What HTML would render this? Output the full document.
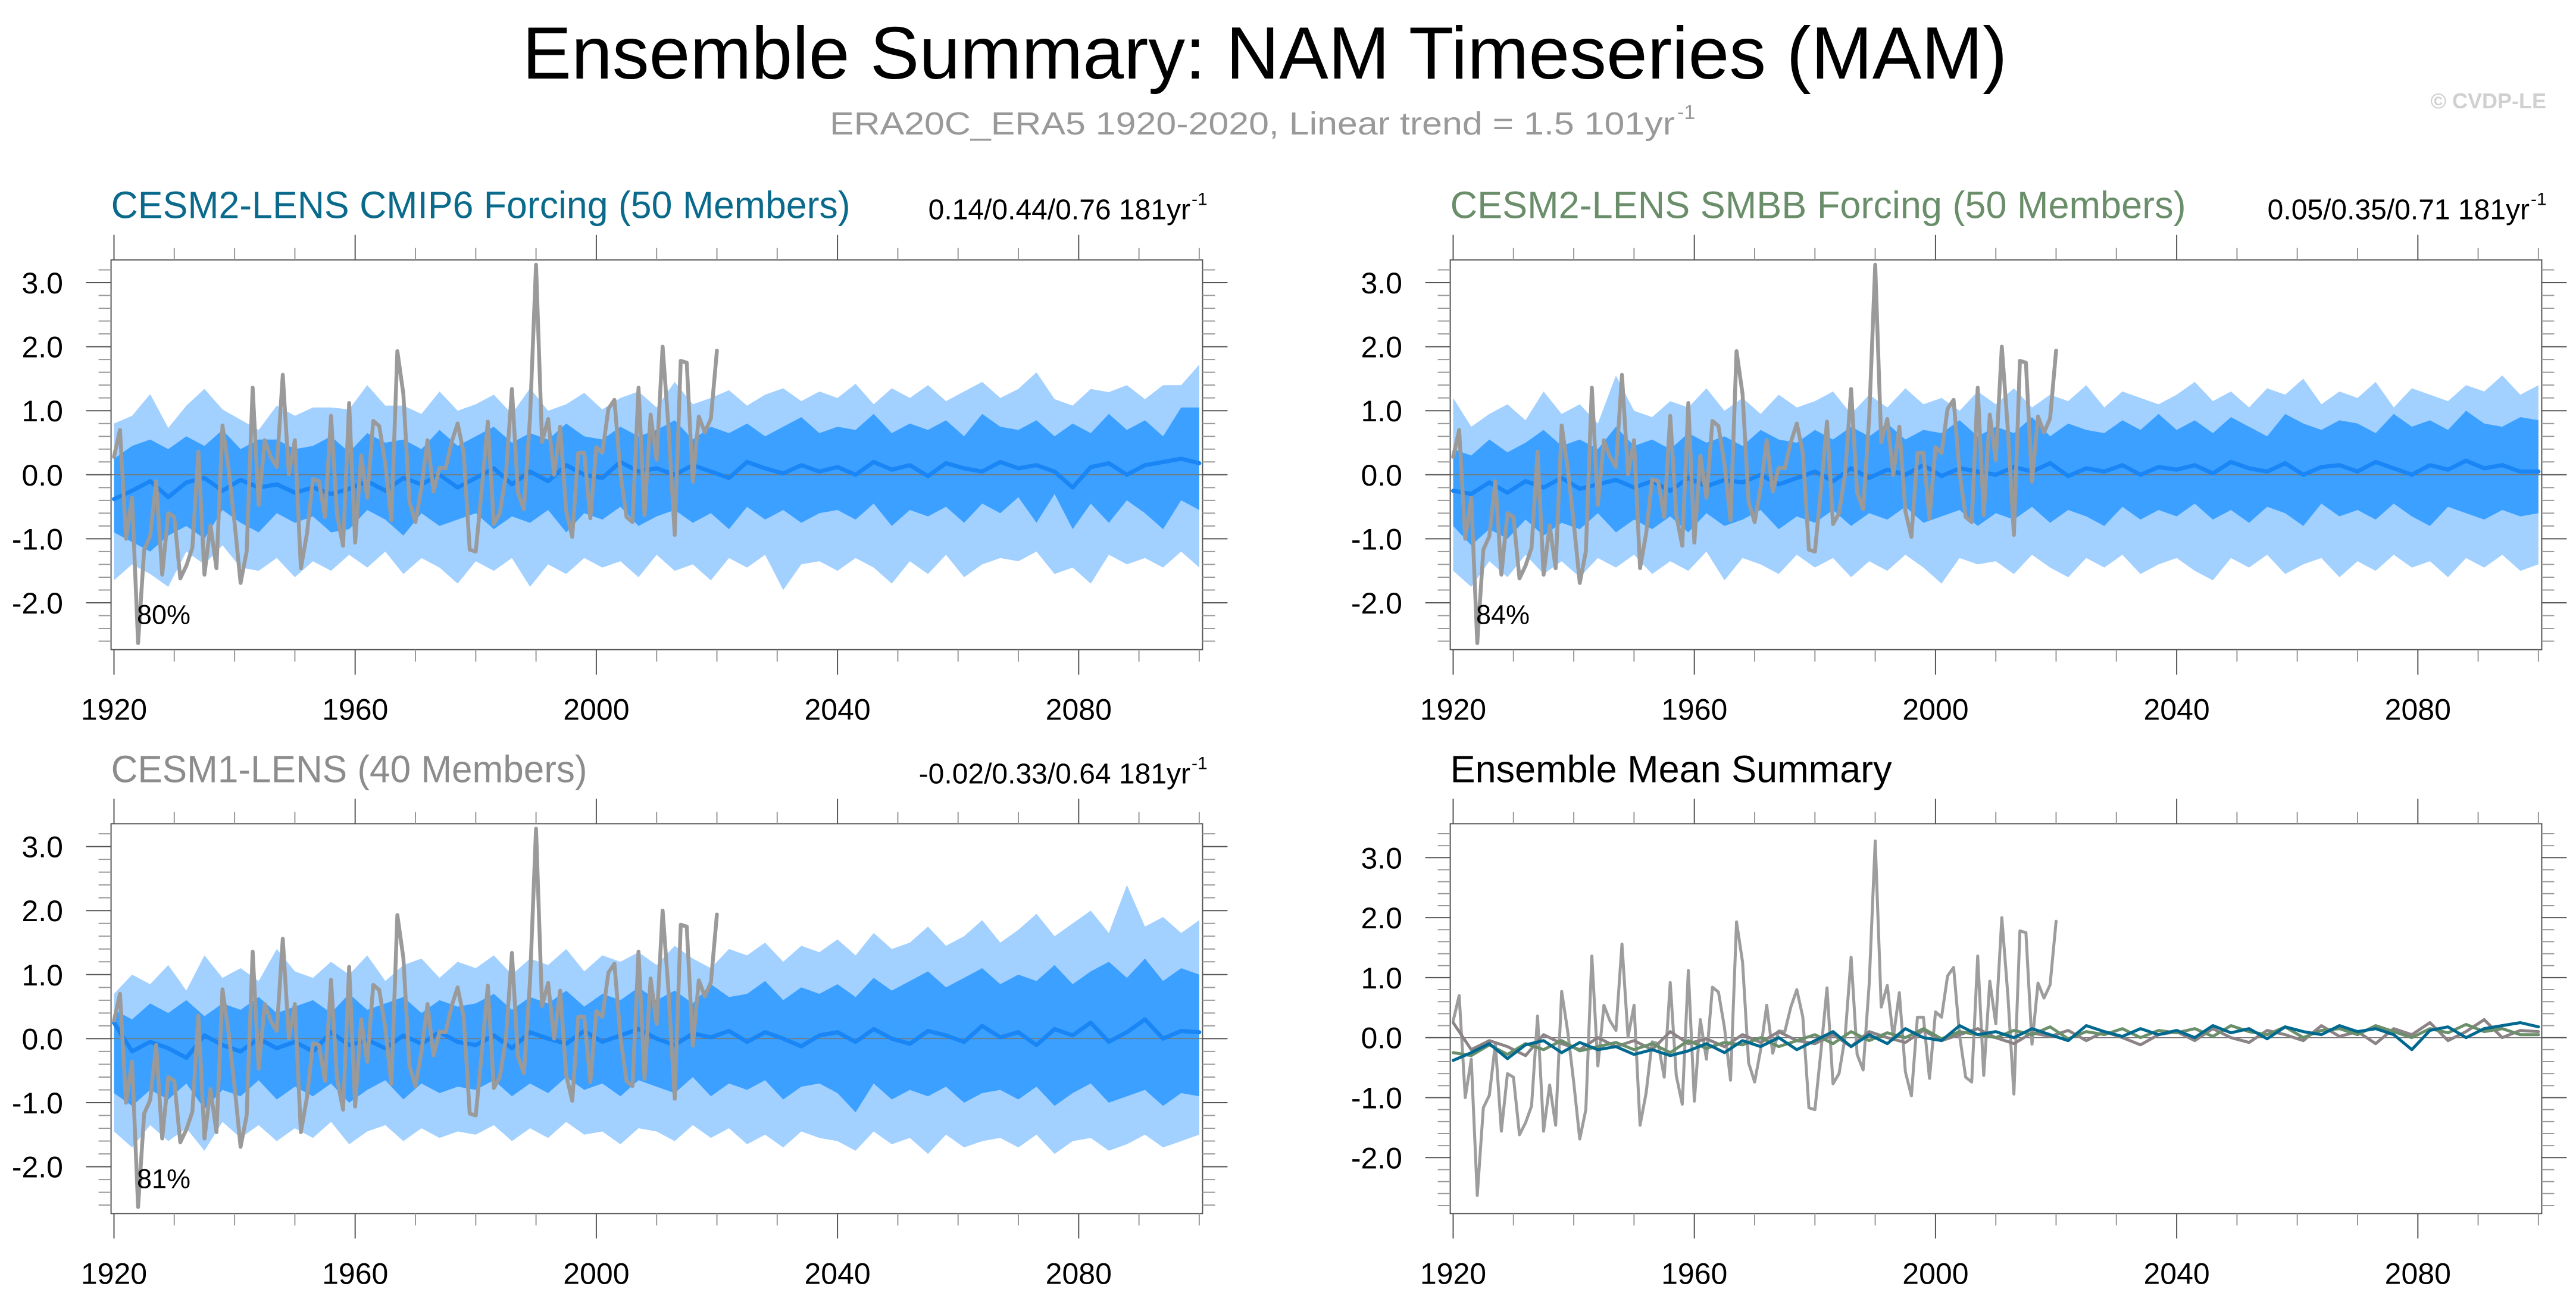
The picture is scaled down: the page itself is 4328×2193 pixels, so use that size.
<!DOCTYPE html>
<html><head><meta charset="utf-8"><title>Ensemble Summary: NAM Timeseries (MAM)</title>
<style>
html,body{margin:0;padding:0;background:#fff;}
svg{display:block;font-family:"Liberation Sans",Arial,sans-serif;}
</style></head>
<body>
<svg id="chart" width="4328" height="2193" viewBox="0 0 4328 2193" xmlns="http://www.w3.org/2000/svg">
<rect x="0" y="0" width="4328" height="2193" fill="#fff"/>
<text x="2125" y="132" font-size="124" text-anchor="middle" textLength="2495" lengthAdjust="spacingAndGlyphs" fill="#000">Ensemble Summary: NAM Timeseries (MAM)</text>
<text x="1394" y="226" font-size="54" fill="#999" textLength="1420" lengthAdjust="spacingAndGlyphs">ERA20C_ERA5 1920-2020, Linear trend = 1.5 101yr</text>
<text x="2818" y="200" font-size="34" fill="#999">-1</text>
<text x="4278" y="182" font-size="36" font-weight="bold" fill="#d0d0d0" text-anchor="end">© CVDP-LE</text>
<g id="plots"></g>
</svg>
<script>
// Years for ensemble statistics (3-year sampling)
const statYears = [];
for (let y = 1920; y <= 2100; y += 3) statYears.push(y);
// Observations 1920-2020
const obsStart = 1920;
const obsVals = [0.28,0.70,-1.00,-0.36,-2.63,-1.17,-0.96,-0.10,-1.56,-0.60,
-0.66,-1.62,-1.42,-1.14,0.36,-1.56,-0.79,-1.46,0.77,0.10,
-0.75,-1.69,-1.20,1.36,-0.47,0.54,0.28,0.12,1.56,0.01,
0.54,-1.46,-0.92,-0.07,-0.10,-0.66,0.92,-0.63,-1.11,1.12,
-1.06,0.30,-0.36,0.84,0.76,0.17,-0.71,1.93,1.26,-0.42,
-0.74,-0.20,0.54,-0.26,0.11,0.10,0.51,0.80,0.34,-1.17,
-1.20,-0.23,0.83,-0.77,-0.60,0.00,1.34,-0.28,-0.54,0.90,
3.28,0.51,0.87,0.00,0.75,-0.57,-0.97,0.34,0.34,-0.68,
0.43,0.34,1.03,1.17,0.03,-0.66,-0.74,1.36,-0.63,0.94,
0.23,2.00,0.70,-0.94,1.78,1.75,-0.11,0.91,0.66,0.88,
1.94];
// CESM2 CMIP6
const cmip6OutHi = [0.80,0.92,1.26,0.73,1.08,1.34,1.02,0.86,0.70,1.08,0.92,1.05,1.05,1.02,1.40,1.08,1.08,0.95,1.30,1.00,1.10,1.25,0.95,1.35,1.00,1.10,1.28,1.02,1.20,1.30,1.05,1.45,1.10,1.20,1.32,1.08,1.25,1.35,1.15,1.30,1.20,1.42,1.10,1.35,1.20,1.40,1.15,1.30,1.45,1.20,1.34,1.60,1.18,1.08,1.34,1.29,1.40,1.18,1.40,1.40,1.72];
const cmip6InHi = [0.25,0.45,0.55,0.40,0.60,0.45,0.70,0.40,0.55,0.55,0.40,0.45,0.60,0.35,0.65,0.50,0.55,0.40,0.70,0.45,0.60,0.75,0.50,0.65,0.55,0.80,0.60,0.55,0.75,0.60,0.70,0.85,0.55,0.75,0.65,0.80,0.60,0.75,0.90,0.65,0.75,0.70,0.95,0.65,0.80,0.70,0.85,0.60,0.95,0.75,0.70,0.85,0.60,0.80,0.65,0.95,0.70,0.85,0.60,1.05,1.05];
const cmip6InLo = [-0.90,-1.05,-1.20,-0.95,-0.80,-1.00,-0.55,-0.75,-0.90,-0.60,-0.75,-0.65,-0.90,-0.85,-0.55,-0.70,-0.95,-0.60,-0.80,-0.70,-0.60,-0.85,-0.65,-0.75,-0.55,-0.90,-0.60,-0.70,-0.50,-0.80,-0.65,-0.55,-0.75,-0.60,-0.85,-0.50,-0.70,-0.55,-0.75,-0.60,-0.55,-0.70,-0.45,-0.80,-0.55,-0.65,-0.50,-0.75,-0.45,-0.60,-0.35,-0.75,-0.30,-0.85,-0.45,-0.75,-0.40,-0.60,-0.85,-0.40,-0.55];
const cmip6OutLo = [-1.65,-1.40,-1.55,-1.75,-1.20,-1.40,-1.10,-1.45,-1.50,-1.30,-1.60,-1.35,-1.50,-1.25,-1.45,-1.20,-1.55,-1.30,-1.45,-1.70,-1.35,-1.50,-1.30,-1.75,-1.40,-1.55,-1.30,-1.45,-1.35,-1.60,-1.25,-1.50,-1.40,-1.65,-1.30,-1.45,-1.25,-1.80,-1.40,-1.35,-1.50,-1.30,-1.45,-1.70,-1.35,-1.55,-1.25,-1.60,-1.40,-1.30,-1.35,-1.20,-1.55,-1.45,-1.70,-1.25,-1.40,-1.30,-1.45,-1.20,-1.45];
const cmip6Mean = [-0.38,-0.25,-0.10,-0.35,-0.12,-0.05,-0.25,-0.08,-0.20,-0.15,-0.28,-0.20,-0.30,-0.22,-0.10,-0.25,-0.05,-0.15,0.00,-0.20,-0.05,0.10,-0.15,0.05,-0.10,0.15,0.00,-0.05,0.20,0.05,0.10,0.00,0.15,0.05,-0.05,0.20,0.10,0.02,0.15,0.05,0.12,0.00,0.20,0.08,0.15,-0.02,0.18,0.10,0.05,0.20,0.10,0.15,0.05,-0.20,0.12,0.18,0.00,0.15,0.20,0.25,0.18];
// CESM2 SMBB
const smbbOutHi = [1.20,0.75,0.95,1.10,0.85,1.30,0.95,1.10,0.80,1.55,1.00,0.90,1.15,1.05,1.35,1.00,1.20,0.95,1.25,1.05,1.15,1.30,0.95,1.25,1.05,1.35,1.10,1.20,1.00,1.30,1.10,1.35,1.05,1.25,1.15,1.40,1.05,1.30,1.20,1.10,1.25,1.45,1.15,1.30,1.05,1.35,1.25,1.50,1.10,1.30,1.20,1.45,1.05,1.35,1.25,1.15,1.40,1.30,1.55,1.25,1.40];
const smbbInHi = [0.40,0.30,0.55,0.35,0.50,0.70,0.45,0.55,0.40,0.75,0.45,0.55,0.40,0.65,0.50,0.60,0.45,0.70,0.55,0.50,0.70,0.55,0.75,0.60,0.80,0.55,0.70,0.65,0.85,0.60,0.75,0.65,0.90,0.60,0.80,0.70,0.65,0.85,0.70,0.95,0.70,0.85,0.65,0.90,0.75,0.60,0.95,0.80,0.70,0.85,0.80,0.65,0.95,0.75,0.85,0.70,1.00,0.80,0.75,0.90,0.85];
const smbbInLo = [-0.80,-1.10,-0.85,-1.00,-0.70,-0.95,-0.75,-0.85,-0.60,-0.90,-0.70,-0.85,-0.65,-0.90,-0.60,-0.80,-0.70,-0.55,-0.85,-0.65,-0.75,-0.55,-0.80,-0.60,-0.70,-0.50,-0.75,-0.65,-0.55,-0.80,-0.60,-0.70,-0.50,-0.75,-0.55,-0.65,-0.80,-0.50,-0.70,-0.55,-0.65,-0.45,-0.70,-0.55,-0.75,-0.50,-0.60,-0.80,-0.45,-0.65,-0.55,-0.70,-0.45,-0.65,-0.80,-0.50,-0.60,-0.70,-0.55,-0.65,-0.60];
const smbbOutLo = [-1.50,-1.75,-1.35,-1.60,-1.25,-1.55,-1.35,-1.60,-1.30,-1.45,-1.25,-1.55,-1.35,-1.50,-1.20,-1.65,-1.30,-1.40,-1.55,-1.25,-1.45,-1.30,-1.60,-1.35,-1.50,-1.25,-1.45,-1.70,-1.30,-1.40,-1.35,-1.55,-1.25,-1.45,-1.60,-1.30,-1.45,-1.25,-1.55,-1.40,-1.30,-1.50,-1.65,-1.30,-1.45,-1.25,-1.55,-1.40,-1.30,-1.60,-1.35,-1.50,-1.25,-1.45,-1.35,-1.60,-1.30,-1.45,-1.25,-1.50,-1.40];
const smbbMean = [-0.25,-0.30,-0.12,-0.28,-0.10,-0.20,-0.05,-0.22,-0.15,-0.08,-0.20,-0.10,-0.25,-0.05,-0.18,-0.08,-0.12,0.00,-0.15,-0.05,0.05,-0.10,0.10,-0.05,0.08,0.00,0.15,-0.02,0.10,0.05,0.00,0.12,0.05,0.18,-0.02,0.10,0.05,0.15,0.00,0.12,0.08,0.15,0.02,0.20,0.10,0.05,0.18,0.00,0.12,0.15,0.05,0.20,0.10,0.00,0.15,0.08,0.22,0.10,0.15,0.05,0.05];
// CESM1
const cesm1OutHi = [0.70,1.00,0.85,1.15,0.75,1.30,0.95,1.10,0.90,1.40,1.05,0.95,1.20,1.00,1.30,0.90,1.15,1.25,0.95,1.20,1.10,1.30,1.00,1.25,1.15,1.40,1.05,1.30,1.20,1.35,1.15,1.45,1.25,1.10,1.40,1.30,1.50,1.20,1.45,1.35,1.55,1.30,1.65,1.40,1.50,1.75,1.45,1.60,1.85,1.50,1.70,1.95,1.60,1.80,2.00,1.65,2.40,1.75,1.90,1.65,1.85];
const cesm1InHi = [0.45,0.30,0.55,0.40,0.60,0.35,0.55,0.45,0.65,0.40,0.50,0.60,0.40,0.70,0.45,0.55,0.65,0.40,0.60,0.50,0.55,0.70,0.45,0.65,0.55,0.75,0.50,0.70,0.60,0.80,0.60,0.75,0.55,0.85,0.65,0.70,0.90,0.60,0.80,0.70,0.85,0.65,0.95,0.75,0.90,1.05,0.80,0.95,1.10,0.85,1.00,0.90,1.15,0.85,1.05,1.20,0.95,1.25,0.90,1.10,1.00];
const cesm1InLo = [-0.85,-1.05,-0.80,-0.95,-0.70,-1.10,-0.80,-0.90,-0.65,-0.95,-0.75,-0.90,-0.70,-1.00,-0.80,-0.65,-0.95,-0.70,-0.85,-0.75,-0.80,-0.65,-0.90,-0.70,-0.85,-0.60,-0.80,-0.70,-0.90,-0.65,-0.75,-0.85,-0.60,-0.90,-0.70,-0.80,-0.65,-0.95,-0.75,-0.70,-0.85,-1.15,-0.70,-0.95,-0.80,-0.90,-0.75,-1.00,-0.85,-0.80,-0.95,-0.75,-1.05,-0.85,-0.70,-1.00,-0.90,-0.80,-1.05,-0.85,-0.90];
const cesm1OutLo = [-1.45,-1.70,-1.35,-1.60,-1.40,-1.75,-1.30,-1.55,-1.35,-1.60,-1.40,-1.55,-1.30,-1.65,-1.45,-1.35,-1.60,-1.40,-1.55,-1.45,-1.50,-1.35,-1.60,-1.40,-1.55,-1.30,-1.50,-1.45,-1.65,-1.40,-1.45,-1.60,-1.35,-1.55,-1.40,-1.65,-1.50,-1.70,-1.45,-1.55,-1.60,-1.75,-1.45,-1.65,-1.55,-1.80,-1.50,-1.70,-1.60,-1.55,-1.70,-1.50,-1.80,-1.60,-1.55,-1.75,-1.65,-1.50,-1.70,-1.60,-1.50];
const cesm1Mean = [0.25,-0.20,-0.05,-0.15,-0.30,0.05,-0.10,-0.20,0.00,-0.15,-0.05,-0.20,0.10,-0.10,-0.02,-0.15,0.05,-0.08,0.10,-0.05,-0.10,0.05,-0.15,0.10,0.00,-0.08,0.12,-0.05,0.05,0.15,0.00,-0.10,0.08,0.02,0.12,-0.05,0.10,0.00,-0.12,0.05,0.10,-0.05,0.15,0.00,-0.08,0.12,0.05,-0.05,0.20,0.02,0.10,-0.10,0.15,0.05,0.25,-0.05,0.10,0.30,0.00,0.12,0.10];
// Axis tick definitions
const xMajorTicks = [1920,1960,2000,2040,2080];
const yMajorTicks = [-2,-1,0,1,2,3];
const yTickLabels = ["-2.0","-1.0","0.0","1.0","2.0","3.0"];
const pctLabels = ["80%","84%","81%"];

const NS = "http://www.w3.org/2000/svg";
const root = document.getElementById("plots");
function mk(tag, attrs, parent){
  const e = document.createElementNS(NS, tag);
  for (const k in attrs) e.setAttribute(k, attrs[k]);
  (parent || root).appendChild(e);
  return e;
}

function makePanel(p){
  const g = mk("g", {});
  
  
  const L = p.ox + 186.6, R = p.ox + 2020.4, T = p.top, B = p.top + 655;
  const xs = yr => p.ox + 191.5 + (yr - 1920) * 10.13;
  const ys = v => p.zeroY - v * p.unit;
  const vMin = (p.zeroY - B) / p.unit, vMax = (p.zeroY - T) / p.unit;

  const t = mk("text", {x: L, y: T - 70, "font-size": 64, fill: p.titleColor, textLength: p.titleLen, lengthAdjust: "spacingAndGlyphs"}, g);
  t.textContent = p.title;
  
  
  if (p.stats) {
    const s = mk("text", {x: p.ox + 2000, y: T - 68, "font-size": 48, fill: "#000", "text-anchor": "end"}, g);
    s.textContent = p.stats;
    
    
    const sup = mk("text", {x: p.ox + 2002, y: T - 92, "font-size": 30, fill: "#000"}, g);
    sup.textContent = "-1";
    
    
  }

  const clipId = "clip" + p.idx;
  const cp = mk("clipPath", {id: clipId}, g);
  mk("rect", {x: L, y: T, width: R - L, height: B - T}, cp);
  const dg = mk("g", {"clip-path": "url(#" + clipId + ")"}, g);
  
  

  function band(hi, lo, color, name){
    let d = "";
    statYears.forEach((yr, i) => { d += (i ? "L" : "M") + xs(yr).toFixed(1) + "," + ys(hi[i]).toFixed(1); });
    for (let i = statYears.length - 1; i >= 0; i--) d += "L" + xs(statYears[i]).toFixed(1) + "," + ys(lo[i]).toFixed(1);
    const e = mk("path", {d: d + "Z", fill: color}, dg);
    
    
  }
  function line(years, vals, color, w, name){
    const d = vals.map((v, i) => (i ? "L" : "M") + xs(years[i]).toFixed(1) + "," + ys(v).toFixed(1)).join("");
    const e = mk("path", {d: d, fill: "none", stroke: color, "stroke-width": w, "stroke-linejoin": "round", "stroke-linecap": "round"}, dg);
    
    
  }
  const obsYears = obsVals.map((v, i) => obsStart + i);

  if (p.bands) {
    band(p.bands.oh, p.bands.ol, "#a2d0ff", "outer-range-band");
    band(p.bands.ih, p.bands.il, "#3ba0ff", "inner-range-band");
  }
  const zl = mk("line", {x1: L, x2: R, y1: ys(0), y2: ys(0), stroke: "#777", "stroke-width": 1.5}, dg);
  
  
  if (p.bands) {
    line(statYears, p.bands.m, "#1a86f5", 7, "ensemble-mean-line");
    line(obsYears, obsVals, "#9a9a9a", 6.5, "observed-line");
  } else {
    line(obsYears, obsVals, "#9d9d9d", 5, "observed-line");
    line(statYears, cesm1Mean, "#8b8386", 5, "cesm1-mean-line");
    line(statYears, smbbMean, "#6a8f6a", 5, "smbb-mean-line");
    line(statYears, cmip6Mean, "#00698f", 5, "cmip6-mean-line");
  }

  const fr = mk("rect", {x: L, y: T, width: R - L, height: B - T, fill: "none", stroke: "#555", "stroke-width": 2}, g);
  
  

  for (let yr = 1920; yr <= 2100; yr += 10) {
    const major = xMajorTicks.includes(yr);
    const len = major ? 42 : 20;
    const x = xs(yr);
    const t1 = mk("line", {x1: x, x2: x, y1: T, y2: T - len, stroke: major ? "#555" : "#999", "stroke-width": 2}, g);
    
    
    const t2 = mk("line", {x1: x, x2: x, y1: B, y2: B + len, stroke: major ? "#555" : "#999", "stroke-width": 2}, g);
    
    
  }
  xMajorTicks.forEach(yr => {
    const lb = mk("text", {x: xs(yr), y: B + 118, "font-size": 50, "text-anchor": "middle", fill: "#000"}, g);
    lb.textContent = String(yr);
    
    
  });
  for (let k = Math.ceil(vMin * 5); k <= Math.floor(vMax * 5); k++) {
    const v = k / 5;
    const major = k % 5 === 0;
    const len = major ? 42 : 21;
    const y = ys(v);
    const a = mk("line", {x1: L, x2: L - len, y1: y, y2: y, stroke: major ? "#555" : "#999", "stroke-width": 2}, g);
    
    
    const b = mk("line", {x1: R, x2: R + len, y1: y, y2: y, stroke: major ? "#555" : "#999", "stroke-width": 2}, g);
    
    
  }
  yMajorTicks.forEach((v, i) => {
    const lb = mk("text", {x: p.ox + 106, y: ys(v) + 18, "font-size": 50, "text-anchor": "end", fill: "#000"}, g);
    lb.textContent = yTickLabels[i];
    
    
  });
  if (p.pct) {
    const pc = mk("text", {x: p.ox + 230, y: T + 612, "font-size": 45, fill: "#000"}, g);
    pc.textContent = p.pct;
    
    
  }
}

makePanel({idx: 1, name: "panel-cesm2-cmip6", ox: 0, top: 436.7, zeroY: 797.8, unit: 107.6,
  title: "CESM2-LENS CMIP6 Forcing (50 Members)", titleColor: "#0a6a8c", titleLen: 1242,
  stats: "0.14/0.44/0.76 181yr", pct: pctLabels[0],
  bands: {oh: cmip6OutHi, ih: cmip6InHi, il: cmip6InLo, ol: cmip6OutLo, m: cmip6Mean}});
makePanel({idx: 2, name: "panel-cesm2-smbb", ox: 2250, top: 436.7, zeroY: 797.8, unit: 107.6,
  title: "CESM2-LENS SMBB Forcing (50 Members)", titleColor: "#6a8e6a", titleLen: 1236,
  stats: "0.05/0.35/0.71 181yr", pct: pctLabels[1],
  bands: {oh: smbbOutHi, ih: smbbInHi, il: smbbInLo, ol: smbbOutLo, m: smbbMean}});
makePanel({idx: 3, name: "panel-cesm1", ox: 0, top: 1384.3, zeroY: 1745.4, unit: 107.6,
  title: "CESM1-LENS (40 Members)", titleColor: "#8c8c8c", titleLen: 800,
  stats: "-0.02/0.33/0.64 181yr", pct: pctLabels[2],
  bands: {oh: cesm1OutHi, ih: cesm1InHi, il: cesm1InLo, ol: cesm1OutLo, m: cesm1Mean}});
makePanel({idx: 4, name: "panel-ensemble-mean-summary", ox: 2250, top: 1384.3, zeroY: 1743.7, unit: 100.8,
  title: "Ensemble Mean Summary", titleColor: "#000", titleLen: 742, stats: null, pct: null, bands: null});
</script>
</body></html>
